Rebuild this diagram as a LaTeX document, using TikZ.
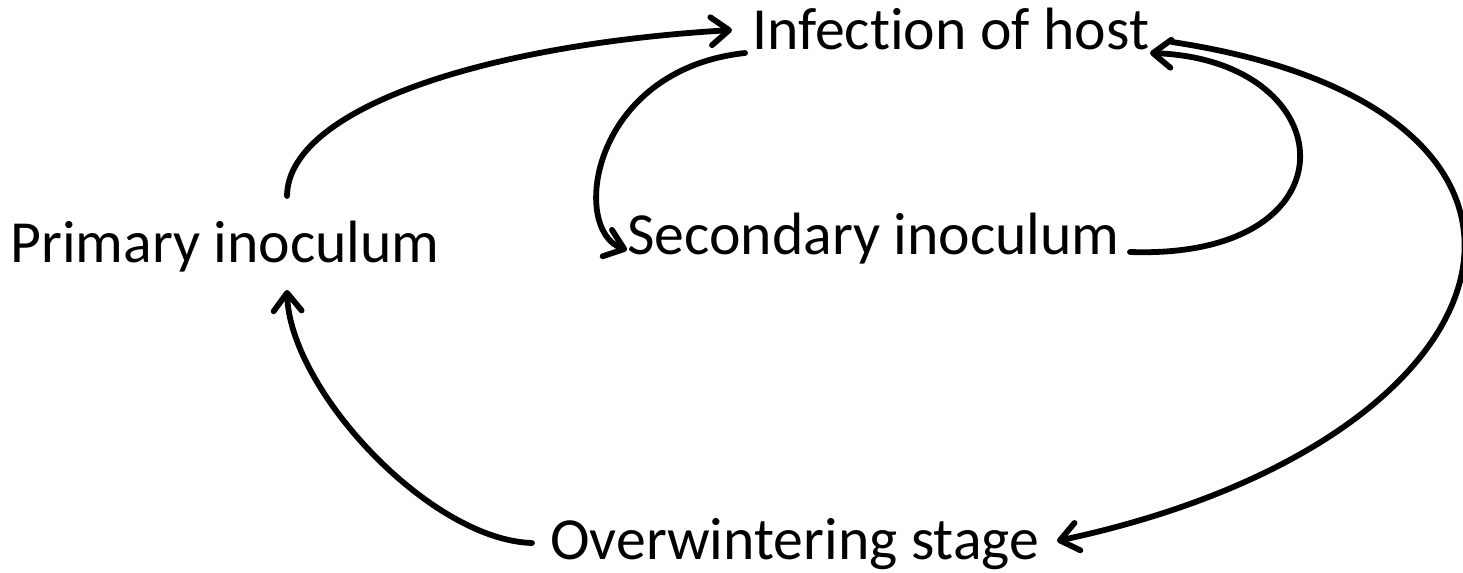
\documentclass[tikz,border=0pt]{standalone}
\usepackage{fontspec}
\setmainfont{Carlito}[Ligatures=NoCommon]
\usetikzlibrary{arrows.meta}
\tikzstyle{stage} = [anchor=base west, inner sep=0pt,
    font=\fontsize{34}{40}\selectfont]
\tikzstyle{cycle} = [line width=3.3pt, line cap=round,
    -{Straight Barb[length=0.36cm, width=0.56cm, round]}]

\begin{document}
\begin{tikzpicture}[x=0.02cm, y=-0.02cm]
	\useasboundingbox (0,0) rectangle (1463,573);
	% Place nodes
	\node[stage] (infection) at (752,50) {Infection of host};
	\node[stage] (primary) at (10,263) {Primary inoculum};
	\node[stage] (secondary) at (627,255) {Secondary inoculum};
	\node[stage] (overwinter) at (550,560) {Overwintering stage};
	
	% Primary cycle
	\draw[cycle] ([shift={(277,-67)}]primary.base west)
		.. controls (288,110) and (480,45) .. ([shift={(-20,-20)}]infection.base west);
	\draw[cycle] ([shift={(420,-8)}]infection.base west)
		.. controls (1620,110) and (1530,440) .. ([shift={(507,-19)}]overwinter.base west);
	\draw[cycle] ([shift={(-18,-17)}]overwinter.base west)
		.. controls (430,540) and (290,390) .. ([shift={(277,27)}]primary.base west);
	
	% Secondary cycle
	\draw[cycle] ([shift={(-7,3)}]infection.base west)
		.. controls (590,70) and (570,230) .. ([shift={(0,-5)}]secondary.base west);
	\draw[cycle] ([shift={(503,-3)}]secondary.base west)
		.. controls (1360,260) and (1345,60) .. ([shift={(398,3)}]infection.base west);
 
\end{tikzpicture}
\end{document}
